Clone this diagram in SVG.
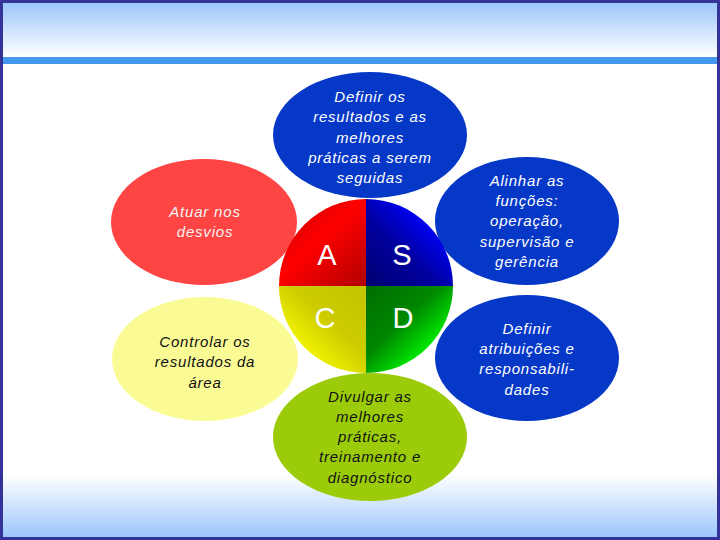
<svg xmlns="http://www.w3.org/2000/svg" width="720" height="540" viewBox="0 0 720 540">
<defs>
<linearGradient id="hdr" x1="0" y1="0" x2="0" y2="1">
<stop offset="0" stop-color="#9cc6fb"/><stop offset="1" stop-color="#ffffff"/>
</linearGradient>
<linearGradient id="ftr" x1="0" y1="0" x2="0" y2="1">
<stop offset="0" stop-color="#ffffff"/><stop offset="1" stop-color="#9cc6fb"/>
</linearGradient>
<linearGradient id="gA" gradientUnits="userSpaceOnUse" x1="366" y1="286" x2="296" y2="212">
<stop offset="0" stop-color="#b00000"/><stop offset="0.65" stop-color="#ff0000"/><stop offset="1" stop-color="#d80000"/>
</linearGradient>
<linearGradient id="gS" gradientUnits="userSpaceOnUse" x1="366" y1="286" x2="436" y2="212">
<stop offset="0" stop-color="#000070"/><stop offset="0.5" stop-color="#0000a0"/><stop offset="0.85" stop-color="#0000f0"/><stop offset="1" stop-color="#0000d0"/>
</linearGradient>
<linearGradient id="gC" gradientUnits="userSpaceOnUse" x1="366" y1="286" x2="296" y2="360">
<stop offset="0" stop-color="#c4c400"/><stop offset="0.5" stop-color="#cccc00"/><stop offset="0.85" stop-color="#f0f000"/><stop offset="1" stop-color="#e0e000"/>
</linearGradient>
<linearGradient id="gD" gradientUnits="userSpaceOnUse" x1="366" y1="286" x2="436" y2="360">
<stop offset="0" stop-color="#006c00"/><stop offset="0.5" stop-color="#008800"/><stop offset="0.85" stop-color="#00e600"/><stop offset="1" stop-color="#00c800"/>
</linearGradient>
</defs>
<style>
.t{font-family:"Liberation Sans",Arial,sans-serif;font-style:italic;font-size:15px;letter-spacing:0.8px;text-anchor:middle}
.w{fill:#ffffff}
.k{fill:#111111}
.blue{fill:#0638c8}
.L{font-family:"Liberation Sans",Arial,sans-serif;font-size:29px;fill:#ffffff;text-anchor:middle}
</style>
<rect x="0" y="0" width="720" height="540" fill="#ffffff"/>
<rect x="0" y="3" width="720" height="54" fill="url(#hdr)"/>
<rect x="0" y="57" width="720" height="7" fill="#4499ee"/>
<rect x="0" y="475" width="720" height="62" fill="url(#ftr)"/>
<rect x="1.5" y="1.5" width="717" height="537" fill="none" stroke="#333399" stroke-width="3"/>

<g id="node-definir-resultados">
<ellipse class="blue" cx="370" cy="135" rx="97" ry="63"/>
<text class="t w"><tspan x="370" y="102">Definir os</tspan><tspan x="370" y="122">resultados e as</tspan><tspan x="370" y="143">melhores</tspan><tspan x="370" y="163">práticas a serem</tspan><tspan x="370" y="183">seguidas</tspan></text>
</g>
<g id="node-atuar">
<ellipse cx="204" cy="222" rx="93" ry="63" fill="#ff4444"/>
<text class="t" fill="#f4f4f4"><tspan x="205" y="217">Atuar nos</tspan><tspan x="205" y="237">desvios</tspan></text>
</g>
<g id="node-controlar">
<ellipse cx="205" cy="359" rx="93" ry="62" fill="#fbfb96"/>
<text class="t k"><tspan x="205" y="347">Controlar os</tspan><tspan x="205" y="367">resultados da</tspan><tspan x="205" y="388">área</tspan></text>
</g>
<g id="node-alinhar">
<ellipse class="blue" cx="527" cy="221" rx="92" ry="64"/>
<text class="t w"><tspan x="527" y="186">Alinhar as</tspan><tspan x="527" y="206">funções:</tspan><tspan x="527" y="226">operação,</tspan><tspan x="527" y="247">supervisão e</tspan><tspan x="527" y="267">gerência</tspan></text>
</g>
<g id="node-atribuicoes">
<ellipse class="blue" cx="527" cy="358" rx="92" ry="63"/>
<text class="t w"><tspan x="527" y="334">Definir</tspan><tspan x="527" y="354">atribuições e</tspan><tspan x="527" y="374">responsabili-</tspan><tspan x="527" y="395">dades</tspan></text>
</g>
<g id="node-divulgar">
<ellipse cx="370" cy="437" rx="97" ry="64" fill="#9ccc09"/>
<text class="t k"><tspan x="370" y="402">Divulgar as</tspan><tspan x="370" y="422">melhores</tspan><tspan x="370" y="442">práticas,</tspan><tspan x="370" y="462">treinamento e</tspan><tspan x="370" y="483">diagnóstico</tspan></text>
</g>
<g id="node-asdc">
<path d="M366,286 L279,286 A87,87 0 0 1 366,199 Z" fill="url(#gA)"/>
<path d="M366,286 L366,199 A87,87 0 0 1 453,286 Z" fill="url(#gS)"/>
<path d="M366,286 L453,286 A87,87 0 0 1 366,373 Z" fill="url(#gD)"/>
<path d="M366,286 L366,373 A87,87 0 0 1 279,286 Z" fill="url(#gC)"/>
<text class="L" x="327" y="265">A</text>
<text class="L" x="402" y="265">S</text>
<text class="L" x="325" y="328">C</text>
<text class="L" x="403" y="328">D</text>
</g>
</svg>
